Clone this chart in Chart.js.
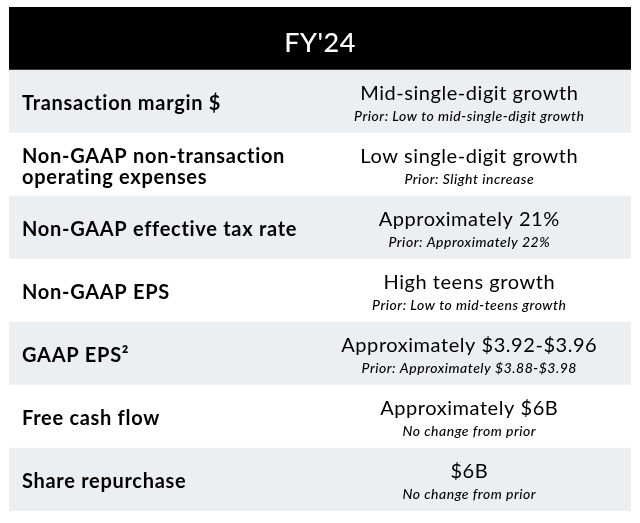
<!DOCTYPE html>
<html>
<head>
<meta charset="utf-8">
<script src="https://cdn.jsdelivr.net/npm/chart.js@4"></script>
<style>
  html, body { margin: 0; padding: 0; background: #ffffff; }
  canvas { display: block; }
</style>
</head>
<body>
<canvas id="guidance-chart" width="640" height="523"></canvas>
<script>
// table rows (first one is the header band)
const header = "FY'24";
const metrics = [
  ['Transaction margin $'],
  ['Non-GAAP non-transaction', 'operating expenses'],
  ['Non-GAAP effective tax rate'],
  ['Non-GAAP EPS'],
  ['GAAP EPS²'],
  ['Free cash flow'],
  ['Share repurchase']
];
const guidance = [
  'Mid-single-digit growth',
  'Low single-digit growth',
  'Approximately 21%',
  'High teens growth',
  'Approximately $3.92-$3.96',
  'Approximately $6B',
  '$6B'
];
const prior = [
  'Prior: Low to mid-single-digit growth',
  'Prior: Slight increase',
  'Prior: Approximately 22%',
  'Prior: Low to mid-teens growth',
  'Prior: Approximately $3.88-$3.98',
  'No change from prior',
  'No change from prior'
];
const rowColors = ['#000000', '#eceff2', '#ffffff', '#eceff2', '#ffffff', '#eceff2', '#ffffff', '#eceff2'];

const rowLabels = [header].concat(metrics.map(m => m.join(' ')));
const rowSpans = rowLabels.map(() => [0, 1]);

const fontFamily = 'Lato, "Noto Sans", sans-serif';

// draws the cell texts at the positions given by the scales
const tableText = {
  id: 'tableText',
  afterDatasetsDraw(chart) {
    const ctx = chart.ctx;
    const x = chart.scales.x;
    const y = chart.scales.y;
    const leftX = x.getPixelForValue(0) + 13;
    const rightX = x.getPixelForValue(0.74);

    ctx.save();
    ctx.textBaseline = 'middle';

    // header
    ctx.fillStyle = '#ffffff';
    ctx.textAlign = 'center';
    ctx.letterSpacing = '0.5px';
    ctx.font = '500 27px ' + fontFamily;
    ctx.fillText(header, x.getPixelForValue(0.5), y.getPixelForValue(0) + 5);

    metrics.forEach((lines, i) => {
      const cy = y.getPixelForValue(i + 1);
      ctx.fillStyle = '#000000';
      ctx.textAlign = 'left';
      ctx.letterSpacing = '0.7px';
      ctx.font = 'bold 20px ' + fontFamily;
      if (lines.length === 1) {
        ctx.fillText(lines[0], leftX, cy + 2);
      } else {
        ctx.fillText(lines[0], leftX, cy - 8);
        ctx.fillText(lines[1], leftX, cy + 13);
      }

      ctx.textAlign = 'center';
      ctx.letterSpacing = '0.55px';
      ctx.font = '20px ' + fontFamily;
      ctx.fillText(guidance[i], rightX, cy - 8);
      ctx.letterSpacing = '0.5px';
      ctx.font = 'italic 500 14px ' + fontFamily;
      ctx.fillText(prior[i], rightX, cy + 15);
    });
    ctx.restore();
  }
};

new Chart(document.getElementById('guidance-chart').getContext('2d'), {
  type: 'bar',
  data: {
    labels: rowLabels,
    datasets: [{
      data: rowSpans,
      backgroundColor: rowColors,
      borderWidth: 0,
      barPercentage: 1,
      categoryPercentage: 1
    }]
  },
  options: {
    indexAxis: 'y',
    responsive: false,
    animation: false,
    layout: { padding: { left: 9, right: 9, top: 7, bottom: 12 } },
    plugins: {
      legend: { display: false },
      tooltip: { enabled: false }
    },
    scales: {
      x: { display: false, min: 0, max: 1 },
      y: { display: false, offset: true }
    }
  },
  plugins: [tableText]
});
</script>
</body>
</html>
